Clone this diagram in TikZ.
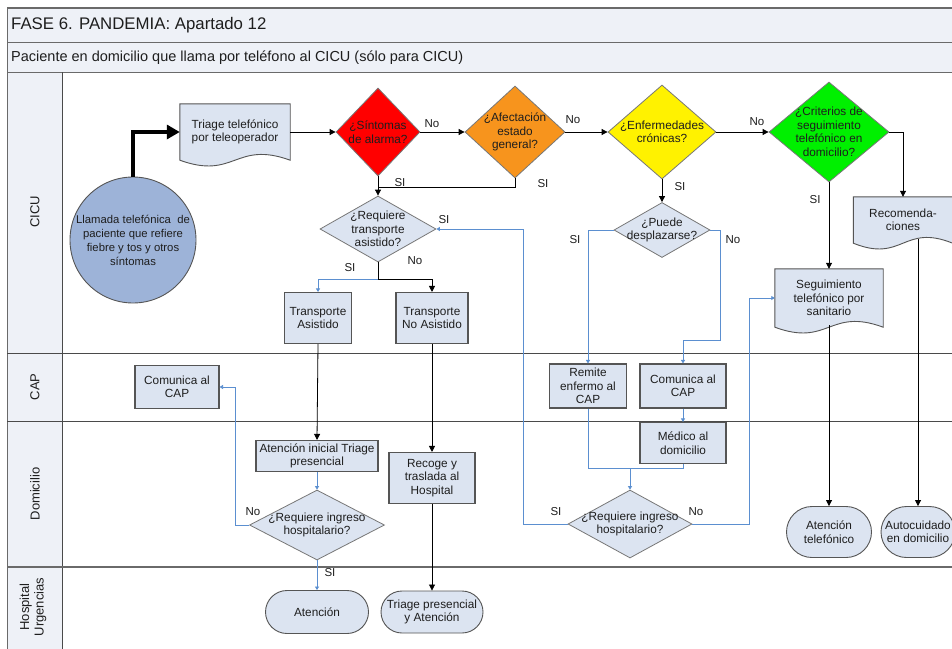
\documentclass[tikz,border=0pt]{standalone}
\usepackage{fontspec}
\setmainfont{Liberation Sans}
\usetikzlibrary{shapes.geometric,shapes.misc,arrows.meta,calc}
\definecolor{band}{HTML}{EEF1F7}
\definecolor{boxfill}{HTML}{DCE4F1}
\definecolor{circfill}{HTML}{9DB3D8}
\definecolor{lineblue}{HTML}{5B8FD0}
\definecolor{frame}{HTML}{6A6A6A}
\definecolor{edge}{HTML}{555555}
\definecolor{orangeD}{HTML}{F7941D}
\definecolor{greenD}{HTML}{00F000}
\definecolor{txt}{HTML}{1E1E1E}
\pgfdeclarelayer{bg}\pgfdeclarelayer{shp}\pgfsetlayers{bg,shp,main}
\newcommand\mydocshape[1]{%
  \begin{pgfonlayer}{shp}
  \draw[edge, line width=0.9pt, fill=boxfill] (#1.north west) -- (#1.north east) -- (#1.south east)
     .. controls ($(#1.south)+(0,-20)$) and ($(#1.south)+(0,20)$) .. (#1.south west) -- cycle;
  \end{pgfonlayer}}
\begin{document}
\begin{tikzpicture}[x=1pt,y=-1pt,
  font=\fontsize{11.8}{13.5}\selectfont, text=txt,
  box/.style={rectangle, draw=edge, line width=1.1pt, fill=boxfill, align=center, inner sep=1pt},
  term/.style={rounded rectangle, draw=edge, line width=0.9pt, fill=boxfill, align=center, inner sep=1pt},
  docn/.style={rectangle, align=center, inner sep=1pt},
  dia/.style={diamond, draw=edge!80, line width=0.8pt, inner sep=0pt},
  dtxt/.style={align=center, inner sep=0pt, font=\fontsize{11.8}{13.5}\selectfont, text=txt},
  lbl/.style={inner sep=0pt, font=\fontsize{11.5}{13}\selectfont},
  lane/.style={rotate=90, align=center, font=\fontsize{13}{14.5}\selectfont},
  bl/.style={draw=black, line width=0.8pt, -{Triangle[length=6pt,width=6pt]}},
  plain/.style={draw=black, line width=0.8pt},
  blu/.style={draw=lineblue, line width=0.8pt, -{Triangle[length=3.5pt,width=4pt]}},
  blul/.style={draw=lineblue, line width=0.8pt},
  bigarrow/.style={draw=black, line width=3.5pt, -{Triangle[length=13pt,width=14pt]}}
]
\useasboundingbox (0,0) rectangle (952,648);
\begin{pgfonlayer}{bg}
  \fill[white] (0,0) rectangle (952,648);
  \fill[band] (7,8) rectangle (960,72);
  \fill[band] (7,72) rectangle (62,660);
  \draw[frame, line width=1.6pt] (7,8) -- (960,8);
  \draw[frame, line width=1pt] (7,8) -- (7,660);
  \draw[frame, line width=0.9pt] (7,42) -- (960,42);
  \draw[frame, line width=0.9pt] (7,72) -- (960,72);
  \draw[frame!70!black, line width=0.9pt] (62,72) -- (62,660);
  \draw[frame!70!black, line width=0.9pt] (7,353) -- (960,353);
  \draw[frame!70!black, line width=0.9pt] (7,421) -- (960,421);
  \draw[frame, line width=1.8pt] (7,567) -- (960,567);
\end{pgfonlayer}

% headers
\node[anchor=west, inner sep=0pt, font=\fontsize{16.8}{19}\selectfont] (title) at (11,25) {FASE 6. PANDEMIA: Apartado 12};
\node[anchor=west, inner sep=0pt, font=\fontsize{14.5}{17}\selectfont] (subtitle) at (11,58) {Paciente en domicilio que llama por teléfono al CICU (sólo para CICU)};
\node[lane] (lcicu) at (35,212) {CICU};
\node[lane] (lcap) at (35,387) {CAP};
\node[lane] (ldom) at (35,494) {Domicilio};
\node[lane] (lhos) at (33,607) {Hospital\\Urgencias};

% nodes
\node[circle, draw=edge, line width=0.9pt, fill=circfill, minimum size=126, inner sep=0pt, align=center,
  font=\fontsize{11.3}{14}\selectfont] (circ) at (133,240)
  {Llamada telefónica\ \ de\\paciente que refiere\\fiebre y tos y otros\\síntomas};
\node[docn, minimum width=110, minimum height=56] (tri) at (235,132) {Triage telefónico\\por teleoperador};
\mydocshape{tri}
\node[dia, fill=red, minimum width=84, minimum height=88,
  label={[dtxt]center:{¿Síntomas\\de alarma?}}] (alarm) at (378,132) {};
\node[dia, fill=orangeD, minimum width=100, minimum height=92,
  label={[dtxt]center:{¿Afectación\\estado\\general?}}] (afect) at (515,132) {};
\node[dia, fill=yellow, minimum width=108, minimum height=94,
  label={[dtxt]center:{¿Enfermedades\\crónicas?}}] (cron) at (662,132) {};
\node[dia, fill=greenD, minimum width=120, minimum height=100,
  label={[dtxt]center:{¿Criterios de\\seguimiento\\telefónico en\\domicilio?}}] (crit) at (829,132) {};
\node[docn, minimum width=99, minimum height=46] (recom) at (903,220) {Recomenda-\\ciones};
\mydocshape{recom}
\node[dia, fill=boxfill, minimum width=116, minimum height=66,
  label={[dtxt]center:{¿Requiere\\transporte\\asistido?}}] (transp) at (378,229) {};
\node[dia, fill=boxfill, minimum width=96, minimum height=55,
  label={[dtxt]center:{¿Puede\\desplazarse?}}] (puede) at (662,230) {};
\node[docn, minimum width=108, minimum height=58] (segui) at (829,298) {Seguimiento\\telefónico por\\sanitario};
\mydocshape{segui}
\node[box, minimum width=67, minimum height=51] (tasis) at (318,318) {Transporte\\Asistido};
\node[box, minimum width=72, minimum height=51] (tnoasis) at (432,318) {Transporte\\No Asistido};
\node[box, minimum width=84, minimum height=43] (comL) at (177,387) {Comunica al\\CAP};
\node[box, minimum width=77, minimum height=44] (remite) at (588,386) {Remite\\enfermo al\\CAP};
\node[box, minimum width=86, minimum height=44] (comR) at (683,386) {Comunica al\\CAP};
\node[box, minimum width=86, minimum height=41] (medico) at (683,443) {Médico al\\domicilio};
\node[box, minimum width=122, minimum height=31] (ainic) at (317,456) {Atención inicial Triage\\presencial};
\node[box, minimum width=86, minimum height=51] (recoge) at (432,478) {Recoge y\\traslada al\\Hospital};
\node[dia, fill=boxfill, minimum width=135, minimum height=70,
  label={[dtxt]center:{¿Requiere ingreso\\hospitalario?}}] (ingL) at (317,525) {};
\node[dia, fill=boxfill, minimum width=124, minimum height=68,
  label={[dtxt]center:{¿Requiere ingreso\\hospitalario?}}] (ingR) at (630,524) {};
\node[term, minimum width=105, minimum height=43] (atenc) at (317,612) {Atención};
\node[term, minimum width=104, minimum height=42] (triage2) at (432,612) {Triage presencial\\y Atención};
\node[term, minimum width=87, minimum height=51] (atel) at (829,532) {Atención\\telefónico};
\node[term, minimum width=76, minimum height=51] (autoc) at (918,532) {Autocuidado\\en domicilio};

% connectors
\draw[bigarrow] (circ.north) |- (tri.west);
\draw[bl] (tri.east) -- (alarm.west);
\draw[bl] (alarm.east) -- (afect.west);
\draw[bl] (afect.east) -- (cron.west);
\draw[bl] (cron.east) -- (crit.west);
\draw[bl] (crit.east) -| (recom.north);
\draw[bl] (alarm.south) -- (transp.north);
\coordinate (j1) at (378,187);
\draw[plain] (afect.south) |- (j1);
\coordinate (j2) at (378,279);
\draw[plain] (transp.south) -- (j2);
\draw[blu] (j2) -| (tasis.north);
\draw[bl] (j2) -| (tnoasis.north);
\draw[bl] (tasis.south) -- (ainic.north);
\draw[blu] (ainic.south) -- (ingL.north);
\draw[blu] (ingL.south) -- (atenc.north);
\draw[blu] (ingL.west) -- ++(-14,0) |- (comL.east);
\draw[bl] (tnoasis.south) -- (recoge.north);
\draw[bl] (recoge.south) -- (triage2.north);
\draw[bl] (cron.south) -- (puede.north);
\draw[blu] (puede.west) -| (remite.north);
\coordinate (c1) at (720,340);
\draw[blu] (puede.east) -| (c1) -| (comR.north);
\draw[blu] (comR.south) -- (medico.north);
\coordinate (j3) at (683,468);
\draw[blul] (remite.south) |- (j3) -- (medico.south);
\coordinate (j4) at (630,468);
\draw[blu] (j4) -- (ingR.north);
\coordinate (c2) at (523,229);
\draw[blu] (ingR.west) -| (c2) -- (transp.east);
\coordinate (c3) at (749,298);
\draw[blu] (ingR.east) -| (c3) -- (segui.west);
\draw[bl] (crit.south) -- (segui.north);
\draw[bl] ($(segui.south)+(0,-2)$) -- (atel.north);
\draw[bl] ($(recom.south -| autoc.north)+(0,-4)$) -- (autoc.north);

% labels
\node[lbl] (n1) at (432,124) {No};
\node[lbl] (n2) at (573,120) {No};
\node[lbl] (n3) at (757,122) {No};
\node[lbl] (s1) at (400,183) {SI};
\node[lbl] (s2) at (543,184) {SI};
\node[lbl] (s3) at (444,220) {SI};
\node[lbl] (s4) at (350,268) {SI};
\node[lbl] (n4) at (415,261) {No};
\node[lbl] (s5) at (680,187) {SI};
\node[lbl] (s6) at (575,240) {SI};
\node[lbl] (n5) at (733,240) {No};
\node[lbl] (s7) at (815,200) {SI};
\node[lbl] (n6) at (253,512) {No};
\node[lbl] (s8) at (330,573) {SI};
\node[lbl] (s9) at (556,512) {SI};
\node[lbl] (n7) at (696,512) {No};
\end{tikzpicture}
\end{document}
